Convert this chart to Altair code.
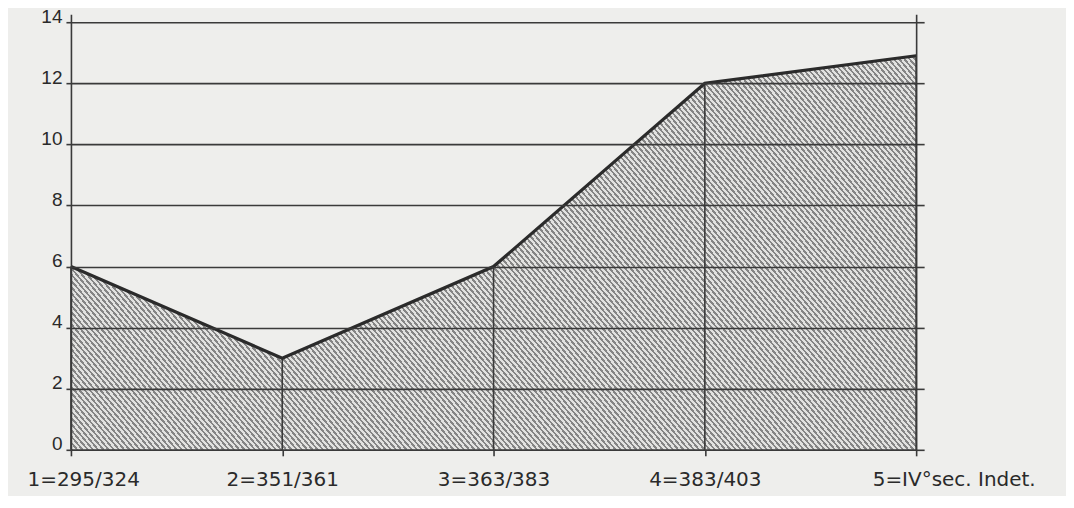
import math
import altair as alt
import pandas as pd

# ---- data ----
categories = ["1=295/324", "2=351/361", "3=363/383", "4=383/403", "5=IV°sec. Indet."]
values = [6, 3, 6, 12, 12.9]
y_ticks = [0, 2, 4, 6, 8, 10, 12, 14]

df = pd.DataFrame({"cat": categories, "val": values})

# ---- layout / style ----
W, H = 846, 436
Y_MAX = 14.26
INK = "#3a3a3a"
TXT = "#2a2a2a"
BG = "#eeeeec"

# hatch pattern built as a striped linear gradient (objectBoundingBox units)
theta = math.radians(50)          # stripe angle from horizontal, going down-right
period = 4.0                      # px, perpendicular stripe spacing
dark_frac = 0.45
bw = W
bh = max(values) / Y_MAX * H
r = (bh * math.cos(theta)) / (bw * math.sin(theta))
k = (1 + r) / (1 + r * r)
span = bw * math.sin(theta) + bh * math.cos(theta)
n = int(round(span / period))
stops = []
for i in range(n):
    a = i / n
    b = (i + dark_frac) / n
    c = (i + 1) / n
    stops += [
        alt.GradientStop(offset=a, color="#858585"),
        alt.GradientStop(offset=b, color="#858585"),
        alt.GradientStop(offset=b, color="#e2e2e0"),
        alt.GradientStop(offset=c, color="#e2e2e0"),
    ]
hatch = alt.LinearGradient(gradient="linear", stops=stops, x1=0, y1=1, x2=k, y2=1 - k * r)

first, last = categories[0], categories[-1]
edge_test = f"datum.value == '{first}' || datum.value == '{last}'"

x_axis = alt.Axis(
    title=None, labelAngle=0,
    domain=True, domainColor=INK, domainWidth=1.6,
    ticks=True, tickSize=6, tickColor=INK, tickWidth=1.6,
    grid=False,
    labelFont="DejaVu Sans", labelFontSize=20, labelColor=TXT,
    labelPadding=14, labelOverlap=False, labelBound=False, labelFlush=False,
    labelBaseline="top",
    labelAlign={"condition": {"test": edge_test, "value": "left"}, "value": "center"},
    labelOffset={"condition": {"test": edge_test, "value": -44}, "value": 0},
    zindex=1,
)
x_enc = alt.X("cat:N", sort=categories, scale=alt.Scale(type="point", padding=0), axis=x_axis)
y_scale = alt.Scale(domain=[0, Y_MAX], nice=False, zero=True)

left_axis = alt.Axis(
    title=None, values=y_ticks, orient="left",
    grid=True, gridColor=INK, gridWidth=1.6, gridOpacity=1,
    domain=True, domainColor=INK, domainWidth=1.6,
    ticks=True, tickSize=5, tickColor=INK, tickWidth=1.6,
    labelFont="Liberation Sans", labelFontSize=19, labelColor=TXT,
    labelBaseline="alphabetic", labelPadding=4, zindex=1,
)
right_axis = alt.Axis(
    title=None, values=y_ticks, orient="right",
    grid=False, labels=False,
    domain=True, domainColor=INK, domainWidth=1.6,
    ticks=True, tickSize=8, tickColor=INK, tickWidth=1.6, zindex=1,
)

area = alt.Chart(df).mark_area(fill=hatch, opacity=1).encode(
    x=x_enc,
    y=alt.Y("val:Q", scale=y_scale, axis=left_axis),
)
rules = alt.Chart(df).mark_rule(color=INK, strokeWidth=1.6).encode(
    x=x_enc,
    y=alt.Y("val:Q", scale=y_scale, axis=None),
    y2=alt.datum(0),
)
line = alt.Chart(df).mark_line(color="#2b2b2b", strokeWidth=3.2).encode(
    x=x_enc,
    y=alt.Y("val:Q", scale=y_scale, axis=right_axis),
)

chart = (
    alt.layer(area, rules, line)
    .resolve_scale(y="shared")
    .resolve_axis(y="independent")
    .properties(
        width=W, height=H,
        autosize=alt.AutoSizeParams(type="none"),
        padding={"left": 63, "top": 6, "right": 150, "bottom": 46},
        background=BG,
    )
    .configure_view(stroke=None)
)

chart.save("out.html", embed_options={"renderer": "svg", "actions": False})
